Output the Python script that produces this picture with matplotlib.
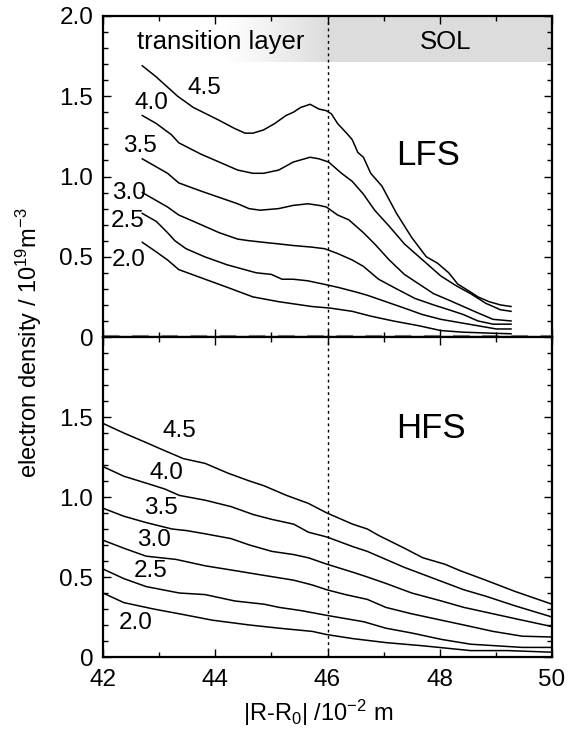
import numpy as np
import matplotlib
matplotlib.use("Agg")
import matplotlib.pyplot as plt
from matplotlib.ticker import MultipleLocator
from matplotlib.colors import to_rgb

plt.rcParams['font.family'] = ['Liberation Sans', 'DejaVu Sans']
plt.rcParams['mathtext.fontset'] = 'custom'
plt.rcParams['mathtext.rm'] = 'Liberation Sans'
plt.rcParams['mathtext.it'] = 'Liberation Sans:italic'

# ---------------- data ----------------
curve_names = ["2.0", "2.5", "3.0", "3.5", "4.0", "4.5"]

# LFS (top panel)
lfs_x_45 = [42.70, 42.95, 43.33, 43.61, 44.07, 44.34, 44.53, 44.67, 44.86, 45.06, 45.26, 45.39, 45.52, 45.69, 45.85, 45.98, 46.07, 46.18, 46.34, 46.44, 46.54, 46.64, 46.77, 46.97, 47.23, 47.50, 47.76, 47.96, 48.16, 48.32, 48.55, 48.68, 48.88, 49.08, 49.27]
lfs_y_45 = [1.69, 1.62, 1.50, 1.43, 1.35, 1.30, 1.27, 1.27, 1.29, 1.33, 1.38, 1.40, 1.43, 1.45, 1.42, 1.41, 1.39, 1.33, 1.27, 1.23, 1.15, 1.12, 1.02, 0.94, 0.77, 0.62, 0.50, 0.46, 0.40, 0.33, 0.28, 0.25, 0.22, 0.20, 0.19]
lfs_x_40 = [42.70, 42.95, 43.22, 43.35, 43.74, 44.07, 44.40, 44.67, 44.86, 45.13, 45.39, 45.69, 45.85, 46.02, 46.25, 46.44, 46.64, 46.84, 47.10, 47.37, 47.76, 48.02, 48.29, 48.55, 48.82, 49.08, 49.27]
lfs_y_40 = [1.38, 1.33, 1.26, 1.21, 1.14, 1.09, 1.04, 1.02, 1.02, 1.04, 1.09, 1.12, 1.11, 1.09, 1.02, 0.97, 0.89, 0.79, 0.69, 0.58, 0.46, 0.38, 0.32, 0.27, 0.21, 0.17, 0.16]
lfs_x_35 = [42.70, 42.95, 43.15, 43.35, 43.74, 44.07, 44.40, 44.60, 44.80, 45.13, 45.39, 45.65, 45.85, 45.98, 46.18, 46.38, 46.64, 46.84, 47.10, 47.37, 47.63, 47.89, 48.16, 48.42, 48.68, 48.95, 49.27]
lfs_y_35 = [1.11, 1.06, 1.02, 0.96, 0.91, 0.87, 0.83, 0.80, 0.79, 0.80, 0.82, 0.83, 0.82, 0.81, 0.76, 0.73, 0.65, 0.58, 0.48, 0.39, 0.33, 0.27, 0.23, 0.19, 0.15, 0.11, 0.10]
lfs_x_30 = [42.70, 42.95, 43.15, 43.35, 43.68, 44.07, 44.40, 44.60, 44.86, 45.13, 45.39, 45.72, 45.95, 46.18, 46.44, 46.64, 46.91, 47.23, 47.56, 47.89, 48.16, 48.42, 48.68, 48.95, 49.27]
lfs_y_30 = [0.90, 0.85, 0.81, 0.76, 0.71, 0.65, 0.61, 0.60, 0.59, 0.58, 0.57, 0.56, 0.55, 0.52, 0.48, 0.44, 0.36, 0.30, 0.24, 0.20, 0.17, 0.14, 0.10, 0.08, 0.08]
lfs_x_25 = [42.70, 42.95, 43.15, 43.28, 43.48, 43.81, 44.21, 44.73, 45.00, 45.19, 45.39, 45.65, 45.92, 46.18, 46.51, 46.71, 47.04, 47.37, 47.69, 48.02, 48.35, 48.68, 49.01, 49.27]
lfs_y_25 = [0.77, 0.72, 0.65, 0.60, 0.55, 0.50, 0.45, 0.40, 0.39, 0.36, 0.36, 0.35, 0.33, 0.31, 0.28, 0.26, 0.22, 0.18, 0.14, 0.11, 0.09, 0.07, 0.05, 0.05]
lfs_x_20 = [42.70, 42.95, 43.15, 43.35, 43.74, 44.21, 44.67, 45.13, 45.72, 46.05, 46.44, 46.77, 47.17, 47.63, 48.02, 48.42, 48.82, 49.27]
lfs_y_20 = [0.59, 0.53, 0.48, 0.42, 0.37, 0.31, 0.25, 0.22, 0.19, 0.18, 0.16, 0.13, 0.10, 0.07, 0.04, 0.03, 0.025, 0.02]

# HFS (bottom panel)
hfs_x_45 = [42.00, 42.37, 42.77, 43.03, 43.43, 43.82, 44.22, 44.61, 44.87, 45.27, 45.66, 45.99, 46.45, 46.71, 46.91, 47.37, 47.70, 48.09, 48.36, 48.82, 49.34, 50.00]
hfs_y_45 = [1.46, 1.40, 1.34, 1.30, 1.24, 1.21, 1.15, 1.10, 1.07, 1.01, 0.96, 0.90, 0.83, 0.80, 0.76, 0.68, 0.62, 0.58, 0.54, 0.48, 0.41, 0.33]
hfs_x_40 = [42.00, 42.37, 42.83, 43.10, 43.36, 43.82, 44.28, 44.68, 45.01, 45.40, 45.66, 45.99, 46.45, 46.71, 47.04, 47.37, 47.90, 48.43, 48.82, 49.34, 50.00]
hfs_y_40 = [1.19, 1.13, 1.08, 1.05, 1.01, 0.98, 0.94, 0.89, 0.86, 0.83, 0.78, 0.75, 0.69, 0.66, 0.61, 0.56, 0.49, 0.42, 0.38, 0.32, 0.25]
hfs_x_35 = [42.00, 42.37, 42.77, 43.23, 43.49, 43.82, 44.28, 44.61, 45.01, 45.40, 45.66, 45.99, 46.45, 46.71, 47.04, 47.50, 48.03, 48.43, 48.82, 49.34, 50.00]
hfs_y_35 = [0.93, 0.88, 0.84, 0.80, 0.79, 0.77, 0.74, 0.70, 0.66, 0.64, 0.62, 0.58, 0.53, 0.50, 0.46, 0.40, 0.35, 0.31, 0.28, 0.24, 0.19]
hfs_x_30 = [42.00, 42.37, 42.77, 43.30, 43.82, 44.35, 44.87, 45.40, 45.73, 45.99, 46.32, 46.71, 47.04, 47.50, 48.03, 48.43, 48.95, 49.47, 50.00]
hfs_y_30 = [0.73, 0.68, 0.63, 0.61, 0.57, 0.54, 0.51, 0.48, 0.45, 0.42, 0.39, 0.36, 0.31, 0.27, 0.23, 0.20, 0.16, 0.13, 0.125]
hfs_x_25 = [42.00, 42.37, 42.77, 43.36, 43.82, 44.35, 44.87, 45.14, 45.53, 45.99, 46.32, 46.65, 47.04, 47.50, 48.03, 48.55, 49.01, 49.47, 50.00]
hfs_y_25 = [0.55, 0.49, 0.44, 0.40, 0.39, 0.35, 0.33, 0.31, 0.29, 0.26, 0.24, 0.22, 0.18, 0.15, 0.11, 0.08, 0.07, 0.06, 0.06]
hfs_x_20 = [42.00, 42.37, 42.90, 43.36, 43.95, 44.61, 45.14, 45.73, 45.99, 46.45, 47.04, 47.70, 48.55, 49.21, 50.00]
hfs_y_20 = [0.40, 0.34, 0.30, 0.27, 0.23, 0.20, 0.18, 0.16, 0.14, 0.115, 0.09, 0.07, 0.04, 0.04, 0.03]

lfs_curves = [(lfs_x_20, lfs_y_20), (lfs_x_25, lfs_y_25), (lfs_x_30, lfs_y_30),
              (lfs_x_35, lfs_y_35), (lfs_x_40, lfs_y_40), (lfs_x_45, lfs_y_45)]
hfs_curves = [(hfs_x_20, hfs_y_20), (hfs_x_25, hfs_y_25), (hfs_x_30, hfs_y_30),
              (hfs_x_35, hfs_y_35), (hfs_x_40, hfs_y_40), (hfs_x_45, hfs_y_45)]

# label anchor positions (data coords)
lfs_label_x = [42.46, 42.43, 42.46, 42.66, 42.86, 43.80]
lfs_label_y = [0.48, 0.72, 0.90, 1.19, 1.46, 1.55]
hfs_label_x = [42.59, 42.85, 42.91, 43.03, 43.13, 43.36]
hfs_label_y = [0.21, 0.54, 0.73, 0.93, 1.15, 1.41]

xticks = [42, 44, 46, 48, 50]
yticks = [0, 0.5, 1.0, 1.5, 2.0]
ytick_labels_top = ["0", "0.5", "1.0", "1.5", "2.0"]
ytick_labels_bot = ["0", "0.5", "1.0", "1.5", ""]
boundary_x = 46.0

# ---------------- figure ----------------
fig = plt.figure(figsize=(5.78, 7.31), dpi=100)
L, R = 103 / 578, 552 / 578
top_y0, top_y1 = 1 - 337 / 731, 1 - 16 / 731
bot_y0 = 1 - 657 / 731
ax1 = fig.add_axes([L, top_y0, R - L, top_y1 - top_y0])
ax2 = fig.add_axes([L, bot_y0, R - L, top_y0 - bot_y0])

tick_fs = 17.5
lab_fs = 17.5

for ax in (ax1, ax2):
    ax.set_xlim(42, 50)
    ax.set_ylim(0, 2.0)
    ax.xaxis.set_major_locator(MultipleLocator(2))
    ax.xaxis.set_minor_locator(MultipleLocator(1))
    ax.yaxis.set_minor_locator(MultipleLocator(0.1))
    ax.set_yticks(yticks)
    ax.tick_params(which='both', direction='in', top=True, right=True,
                   labelsize=tick_fs, width=1.0)
    ax.tick_params(which='major', length=6)
    ax.tick_params(which='minor', length=3.5)
    ax.tick_params(axis='y', pad=7)
    for s in ax.spines.values():
        s.set_linewidth(1.6)
    ax.axvline(boundary_x, color='black', ls=(0, (2, 2.5)), lw=1.0, zorder=1)

ax1.set_yticklabels(ytick_labels_top)
ax2.set_yticklabels(ytick_labels_bot)
ax1.tick_params(labelbottom=False)
ax2.set_xticks(xticks)
ax2.set_xticklabels([str(v) for v in xticks])
ax2.tick_params(axis='x', pad=9)

# zero line (gray dashed under the black spine)
ax1.axhline(0, color='0.55', ls=(0, (4, 3)), lw=3.0, zorder=0, clip_on=False)

# shaded band: gradient for transition layer, flat gray for SOL
gray = to_rgb('#dcdcdc')
band_y0, band_y1 = 1.715, 2.0
xs = np.linspace(42, 46, 400)
alpha = np.clip((xs - 44.1) / 1.9, 0, 1) ** 1.2
img = np.zeros((1, len(xs), 4))
img[..., 0], img[..., 1], img[..., 2] = gray
img[0, :, 3] = alpha
ax1.imshow(img, extent=[42, 46, band_y0, band_y1], aspect='auto',
           interpolation='bilinear', zorder=0)
ax1.fill_between([46, 50], band_y0, band_y1, color=gray, lw=0, zorder=0)
ax1.set_xlim(42, 50)
ax1.set_ylim(0, 2.0)
ax1.text(44.1, 1.84, "transition layer", ha='center', va='center', fontsize=18.5)
ax1.text(48.1, 1.84, "SOL", ha='center', va='center', fontsize=18.5)

for (x, y) in lfs_curves:
    ax1.plot(x, y, color='black', lw=1.1, zorder=3)
for (x, y) in hfs_curves:
    ax2.plot(x, y, color='black', lw=1.1, zorder=3)

for name, lx, ly in zip(curve_names, lfs_label_x, lfs_label_y):
    ax1.text(lx, ly, name, ha='center', va='center', fontsize=lab_fs, zorder=4)
for name, lx, ly in zip(curve_names, hfs_label_x, hfs_label_y):
    ax2.text(lx, ly, name, ha='center', va='center', fontsize=lab_fs, zorder=4)

ax1.text(47.8, 1.13, "LFS", ha='center', va='center', fontsize=25)
ax2.text(47.85, 1.43, "HFS", ha='center', va='center', fontsize=25)

fig.text(29 / 578, 1 - 343 / 731, r"electron density / 10$^{19}$m$^{-3}$",
         rotation=90, ha='center', va='center', fontsize=17)
fig.text(318 / 578, 1 - 713 / 731, r"|R-R$_0$| /10$^{-2}$ m",
         ha='center', va='center', fontsize=17)

fig.savefig("out.png", dpi=100)
